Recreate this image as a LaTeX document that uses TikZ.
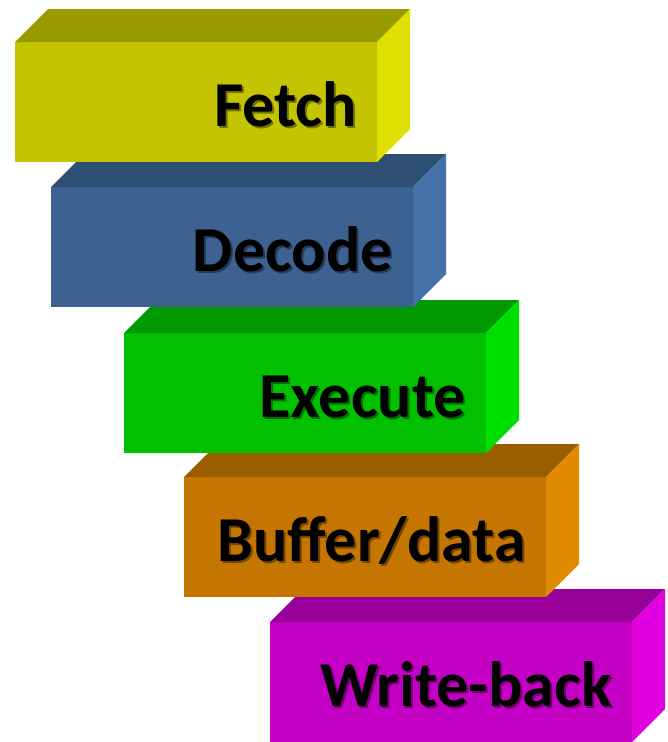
\documentclass[tikz,border=0pt]{standalone}
\usepackage{fontspec}
\setmainfont{Carlito}

% face colours of the stages
\definecolor{fetchfront}{HTML}{C4C400}
\definecolor{fetchtop}{HTML}{999900}
\definecolor{fetchside}{HTML}{E0E000}
\definecolor{decodefront}{HTML}{3D6190}
\definecolor{decodetop}{HTML}{2F4E73}
\definecolor{decodeside}{HTML}{4472A8}
\definecolor{execfront}{HTML}{00C000}
\definecolor{exectop}{HTML}{009900}
\definecolor{execside}{HTML}{00E000}
\definecolor{bufferfront}{HTML}{C47600}
\definecolor{buffertop}{HTML}{9A5E00}
\definecolor{bufferside}{HTML}{E08A00}
\definecolor{wbfront}{HTML}{C400C4}
\definecolor{wbtop}{HTML}{990099}
\definecolor{wbside}{HTML}{E000E0}

\tikzset{
  stagetext/.style={font=\bfseries\fontsize{64}{76}\selectfont, anchor=base east, inner sep=0pt},
  stageshadow/.style={stagetext, text=black, opacity=0.4}
}

\begin{document}
\begin{tikzpicture}[x=1pt,y=-1pt]
      \newcommand\dep{33}
      \newcommand\wid{362}
      \useasboundingbox (0,0) rectangle (667,742);

      % lowest block first, so the upper ones sit on top
      \foreach \lx/\ty/\col/\txt [count=\i] in {270/622/wb/Write-back, 184/477/buffer/{Buffer/data}, 124/333/exec/Execute, 51/187/decode/Decode, 15/42/fetch/Fetch}{
        \fill[\col front] (\lx,\ty) rectangle (\lx+\wid,\ty+120);
        \fill[\col top] (\lx,\ty) -- (\lx+\dep,\ty-\dep) -- (\lx+\wid+\dep,\ty-\dep) -- (\lx+\wid,\ty) -- cycle;
        \fill[\col side] (\lx+\wid,\ty) -- (\lx+\wid+\dep,\ty-\dep) -- (\lx+\wid+\dep,\ty+120-\dep) -- (\lx+\wid,\ty+120) -- cycle;
        \node[stageshadow] (shadow\i) at (\lx+\wid-18,\ty+86) {\txt};
        \node[stagetext] (stage\i) at (\lx+\wid-20,\ty+84) {\txt};
      }
\end{tikzpicture}
\end{document}
